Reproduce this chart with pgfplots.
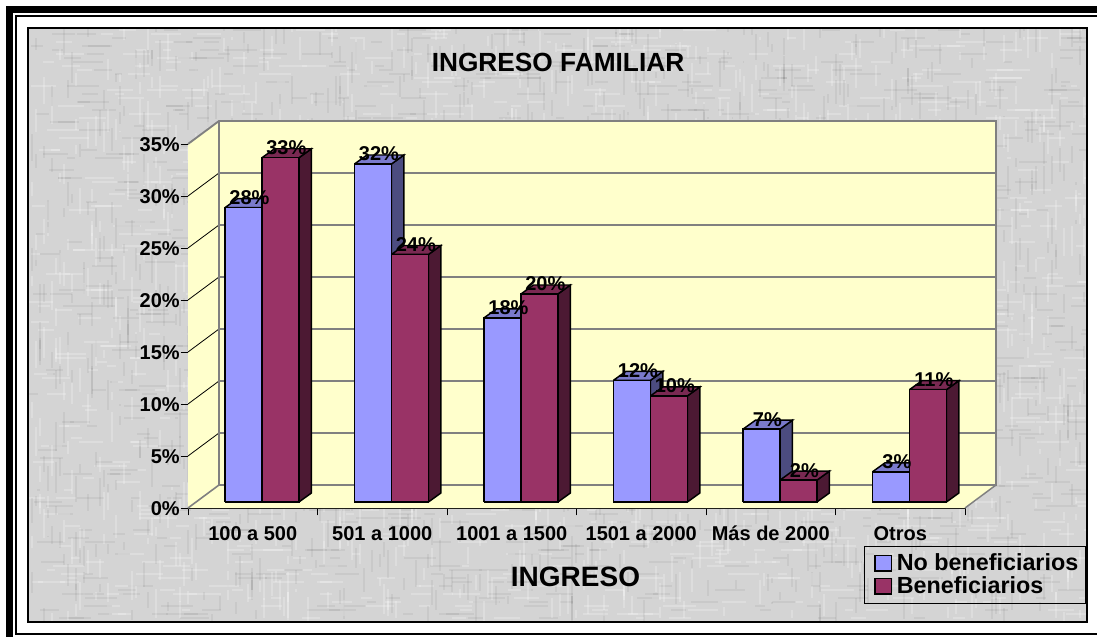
\documentclass[border=0pt]{standalone}
\usepackage{pgfplots}
\usepackage{fontspec}
\pgfplotsset{compat=1.18}
\setmainfont{Liberation Sans}
\definecolor{wall}{HTML}{FFFFCC}
\definecolor{bluef}{HTML}{9999FF}
\definecolor{bluet}{HTML}{7A7ACC}
\definecolor{blues}{HTML}{4C4C80}
\definecolor{marf}{HTML}{993366}
\definecolor{mart}{HTML}{7A2952}
\definecolor{mars}{HTML}{4C1933}
\definecolor{edge}{HTML}{808080}
\definecolor{panel}{HTML}{D4D4D4}
\newcommand{\fs}[1]{\fontsize{#1}{#1}\selectfont\bfseries}
\newcommand{\imod}[2]{\numexpr (#1)-((#1)-((#2)-1)/2)/(#2)*(#2)\relax}
% depth of the walls and of the bars, in data units
\def\wx{0.2392}\def\wy{2.2115}
\def\bx{0.0965}\def\by{0.865}
\def\lift{0.577}\def\bw{0.2855}
% #1 category, #2 series (0/1), #3 value, #4 front, #5 top, #6 side
\newcommand{\boxbar}[6]{%
  \pgfmathsetmacro\xa{#1+\bw*(1+#2)}%
  \pgfmathsetmacro\xb{\xa+\bw}%
  \pgfmathsetmacro\xc{\xb+\bx}%
  \pgfmathsetmacro\xd{\xa+\bx}%
  \pgfmathsetmacro\ya{\lift}%
  \pgfmathsetmacro\yb{\lift+#3}%
  \pgfmathsetmacro\yc{\yb+\by}%
  \pgfmathsetmacro\yd{\ya+\by}%
  \addplot[forget plot,draw=black,line width=1.1pt,line join=miter,fill=#6] coordinates {(\xb,\ya)(\xc,\yd)(\xc,\yc)(\xb,\yb)(\xb,\ya)};
  \addplot[forget plot,draw=black,line width=1.1pt,line join=miter,fill=#5] coordinates {(\xa,\yb)(\xb,\yb)(\xc,\yc)(\xd,\yc)(\xa,\yb)};
  \addplot[forget plot,draw=black,line width=1.1pt,line join=miter,fill=#4] coordinates {(\xa,\ya)(\xb,\ya)(\xb,\yb)(\xa,\yb)(\xa,\ya)};
}
% #1 category, #2 series, #3 value, #4 text
\newcommand{\barlabel}[4]{%
  \pgfmathsetmacro\xa{#1+\bw*(1.5+#2)+0.046}%
  \pgfmathsetmacro\yb{#3+\lift+0.96}%
  \addplot[forget plot,draw=none,no marks,nodes near coords={#4},
    every node near coord/.append style={anchor=center,inner sep=0pt,font=\fs{15},text=black}]
    coordinates {(\xa,\yb)};
}
\newcommand{\gridl}[1]{%
  \pgfmathsetmacro\yb{#1+\wy}%
  \addplot[forget plot,draw=black,line width=.6pt] coordinates {(0,#1)(\wx,\yb)};
  \pgfmathsetmacro\xb{6+\wx}%
  \addplot[forget plot,draw=edge,line width=.9pt] coordinates {(\wx,\yb)(\xb,\yb)};
}
\begin{document}
\begin{tikzpicture}[x=.75pt,y=.75pt]
\path[use as bounding box] (0,0) rectangle (1097,637);
% frame (pixel y measured from top => 637-y)
\fill[black] (6,0) rectangle (13.3,631);
\fill[black] (6,623.7) rectangle (1097,631);
\fill[black] (15,2.5) rectangle (17,622);
\fill[black] (15,620) rectangle (1097,622);
\fill[black] (15,2.5) rectangle (1097,4.3);
% textured panel
\fill[panel] (28,15) rectangle (1087,609);
\begin{scope}
\clip (28,15) rectangle (1087,609);
\foreach \i in {0,...,148}{
  \foreach \j in {0,...,13}{
    \edef\s{\the\numexpr 28+\imod{\i*\i*31+\j*\j*197+\i*\j*83+\j*113}{1059}\relax}
    \edef\l{\the\numexpr 8+\imod{\i*17+\j*41}{26}\relax}
    \ifodd\j\relax
      \draw[white,opacity=.22,line width=1.2pt] (\s,15+4*\i) -- ++(\l,0);
    \else
      \draw[black,opacity=.05,line width=1.2pt] (\s,15+4*\i) -- ++(\l,0);
    \fi
  }
}
\foreach \i in {0,...,264}{
  \foreach \j in {0,...,7}{
    \edef\s{\the\numexpr 15+\imod{\i*\i*29+\j*\j*151+\i*\j*67+\j*89}{594}\relax}
    \edef\l{\the\numexpr 8+\imod{\i*13+\j*37}{24}\relax}
    \ifodd\j\relax
      \draw[white,opacity=.22,line width=1.2pt] (28+4*\i,\s) -- ++(0,\l);
    \else
      \draw[black,opacity=.05,line width=1.2pt] (28+4*\i,\s) -- ++(0,\l);
    \fi
  }
}
\end{scope}
\draw[black,line width=.9pt] (28,15) rectangle (1087,609);
\begin{axis}[
  at={(141pt,96.75pt)},anchor=origin,
  scale only axis,width=582.75pt,height=273pt,
  xmin=0,xmax=6,ymin=0,ymax=35,clip=false,
  axis x line=bottom,axis y line=left,
  axis line style={-,black,line width=.6pt},
  xtick={0.5,1.5,2.5,3.5,4.5,5.5},
  xticklabels={100 a 500,501 a 1000,1001 a 1500,1501 a 2000,Más de 2000,Otros},
  major x tick style={draw=none},
  minor xtick={0,1,2,3,4,5,6},
  minor tick length=5.5pt,
  minor tick style={black,line width=.6pt},
  ytick={0,5,10,15,20,25,30,35},
  yticklabels={0\%,5\%,10\%,15\%,20\%,25\%,30\%,35\%},
  major y tick style={black,line width=.6pt},
  tick align=outside,major tick length=5.5pt,
  xticklabel style={font=\fs{15},text=black,anchor=center,yshift=-13.75pt,inner sep=0pt},
  yticklabel style={font=\fs{15},text=black,anchor=east,xshift=.5pt,yshift=-.75pt,inner sep=1pt},
  legend style={at={(0.87,-0.2625)},anchor=south west,draw=black,line width=.5pt,fill=none,
    font=\fs{17.5},inner xsep=1.75pt,inner ysep=4pt,row sep=0pt,
    cells={anchor=west},nodes={inner xsep=3.5pt,inner ysep=1.5pt,yshift=-1.2pt}},
  legend cell align=left,
  legend image code/.code={\path[draw=none,fill=none] (-6.25pt,0pt) -- (0pt,0pt);\draw[#1,draw=black,line width=1.1pt] (0pt,-6.8pt) rectangle (12.3pt,4.7pt);},
]
% walls and floor
\addplot[forget plot,fill=wall,draw=none] coordinates {(0,0)(0,35)(0.2392,37.2115)(0.2392,2.2115)(0,0)};
\addplot[forget plot,fill=wall,draw=none] coordinates {(0.2392,2.2115)(6.2392,2.2115)(6.2392,37.2115)(0.2392,37.2115)(0.2392,2.2115)};
\addplot[forget plot,fill=wall,draw=none] coordinates {(0,0)(6,0)(6.2392,2.2115)(0.2392,2.2115)(0,0)};
\gridl{5}\gridl{10}\gridl{15}\gridl{20}\gridl{25}\gridl{30}
\addplot[forget plot,draw=edge,line width=1.4pt,line join=miter] coordinates {(0,35)(0.2392,37.2115)(6.2392,37.2115)(6.2392,2.2115)(0.2392,2.2115)(0.2392,37.2115)};
\addplot[forget plot,draw=edge,line width=1.2pt] coordinates {(0,0)(0.2392,2.2115)};
\addplot[forget plot,draw=edge,line width=1.1pt] coordinates {(6,0)(6.2392,2.2115)};
% bars
\boxbar{0}{0}{28.3}{bluef}{bluet}{blues}
\boxbar{0}{1}{33.1}{marf}{mart}{mars}
\boxbar{1}{0}{32.5}{bluef}{bluet}{blues}
\boxbar{1}{1}{23.8}{marf}{mart}{mars}
\boxbar{2}{0}{17.7}{bluef}{bluet}{blues}
\boxbar{2}{1}{20.0}{marf}{mart}{mars}
\boxbar{3}{0}{11.7}{bluef}{bluet}{blues}
\boxbar{3}{1}{10.2}{marf}{mart}{mars}
\boxbar{4}{0}{7.0}{bluef}{bluet}{blues}
\boxbar{4}{1}{2.1}{marf}{mart}{mars}
\boxbar{5}{0}{2.9}{bluef}{bluet}{blues}
\boxbar{5}{1}{10.8}{marf}{mart}{mars}
% labels
\barlabel{0}{0}{28.3}{28\%}
\barlabel{0}{1}{33.1}{33\%}
\barlabel{1}{0}{32.5}{32\%}
\barlabel{1}{1}{23.8}{24\%}
\barlabel{2}{0}{17.7}{18\%}
\barlabel{2}{1}{20.0}{20\%}
\barlabel{3}{0}{11.7}{12\%}
\barlabel{3}{1}{10.2}{10\%}
\barlabel{4}{0}{7.0}{7\%}
\barlabel{4}{1}{2.1}{2\%}
\barlabel{5}{0}{2.9}{3\%}
\barlabel{5}{1}{10.8}{11\%}
\addlegendimage{fill=bluef}
\addlegendentry{No beneficiarios}
\addlegendimage{fill=marf}
\addlegendentry{Beneficiarios}
\end{axis}
\node[font=\fs{19.7},anchor=center,inner sep=0pt] at (558,575) {INGRESO FAMILIAR};
\node[font=\fs{21},anchor=center,inner sep=0pt] at (575.5,60) {INGRESO};
\end{tikzpicture}
\end{document}
